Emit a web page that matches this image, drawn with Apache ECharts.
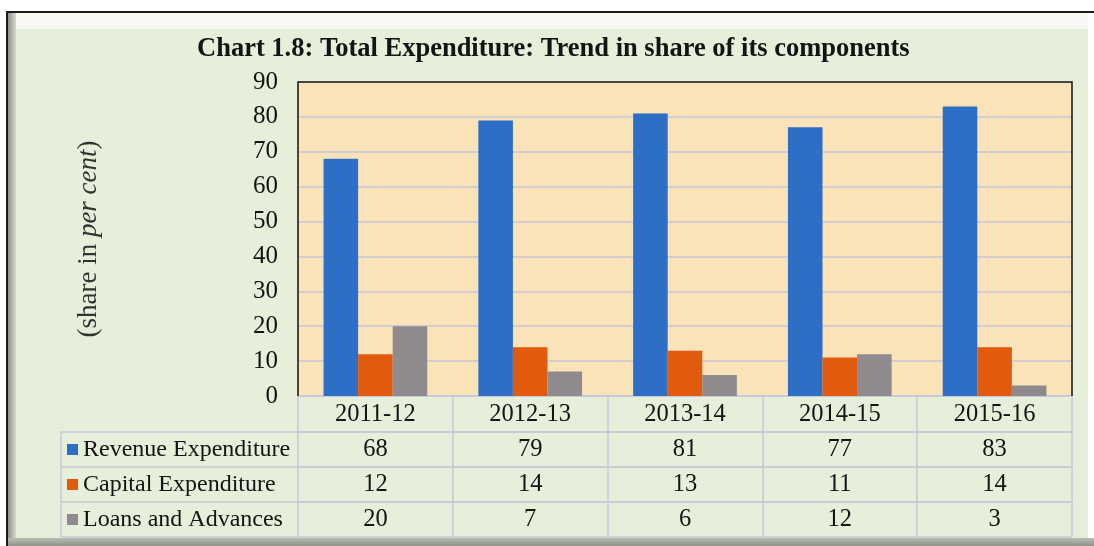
<!DOCTYPE html>
<html>
<head>
<meta charset="utf-8">
<script src="https://cdn.jsdelivr.net/npm/echarts@6/dist/echarts.min.js"></script>
<style>
html,body{margin:0;padding:0;background:#fff;}
#chart{width:1094px;height:546px;}
</style>
</head>
<body>
<div id="chart"></div>
<script>
// ---- data ----
const categories = ['2011-12', '2012-13', '2013-14', '2014-15', '2015-16'];
const seriesNames = ['Revenue Expenditure', 'Capital Expenditure', 'Loans and Advances'];
const revenueExpenditure = [68, 79, 81, 77, 83];
const capitalExpenditure = [12, 14, 13, 11, 14];
const loansAndAdvances = [20, 7, 6, 12, 3];
const yTicks = [0, 10, 20, 30, 40, 50, 60, 70, 80, 90];

// ---- layout ----
const W = 1094, H = 546;
const GL = 298, GR = 1072, GT = 82, GB = 396;
const ROW = 35, HEADER = 36;
const TABLE_LEFT = 61;
const FONT = '"Liberation Serif", "Times New Roman", serif';
const TXT = '#141414';
const TLINE = '#c9c8d8';
const colors = ['#2d6ec7', '#e15a0d', '#8e8a8d'];

const seriesData = [revenueExpenditure, capitalExpenditure, loansAndAdvances];

const chart = echarts.init(document.getElementById('chart'), null, {renderer: 'canvas'});

const rowAxes = seriesData.map((arr, i) => ({
  type: 'category',
  gridIndex: 0,
  position: 'bottom',
  offset: HEADER + i * ROW,
  data: arr.map(String),
  axisLine: {show: true, lineStyle: {color: TLINE, width: 1.5}},
  axisTick: {show: false},
  axisLabel: {fontFamily: FONT, fontSize: 24.5, color: TXT, margin: 5}
}));

const tableBottom = GB + HEADER + 3 * ROW;
const graphics = [
  // outer frame
  {type: 'rect', z: -10, shape: {x: 7, y: 12, width: 1090, height: 535},
   style: {fill: '#d9dccf', stroke: '#1a1a1a', lineWidth: 2}},
  {type: 'rect', z: -9, shape: {x: 8, y: 13, width: 1080, height: 16},
   style: {fill: '#f7f9f2'}},
  {type: 'rect', z: -9, shape: {x: 8, y: 13, width: 8, height: 528},
   style: {fill: {type: 'linear', x: 0, y: 0, x2: 1, y2: 0,
     colorStops: [{offset: 0, color: '#8d918a'}, {offset: 1, color: '#d6dccb'}]}}},
  {type: 'rect', z: -9, shape: {x: 16, y: 29, width: 1072, height: 509},
   style: {fill: '#e6efda'}},
  {type: 'rect', z: -9, shape: {x: 8, y: 538, width: 1086, height: 8},
   style: {fill: {type: 'linear', x: 0, y: 0, x2: 0, y2: 1,
     colorStops: [{offset: 0, color: '#b9bdb2'}, {offset: 1, color: '#8f938b'}]}}},
  {type: 'rect', z: -9, shape: {x: 1088, y: 13, width: 6, height: 525},
   style: {fill: '#ffffff'}},
  // black plot frame on left/top/right
  {type: 'polyline', z: 20, shape: {points: [[GL, GB], [GL, GT], [GR, GT], [GR, GB]]},
   style: {stroke: '#111', lineWidth: 1.5, fill: null}},
  // table lines for the label column
  {type: 'line', z: 5, shape: {x1: TABLE_LEFT, y1: GB + HEADER, x2: TABLE_LEFT, y2: tableBottom},
   style: {stroke: TLINE, lineWidth: 1.5}},
];
for (let i = 0; i <= 3; i++) {
  const y = GB + HEADER + i * ROW;
  graphics.push({type: 'line', z: 5, shape: {x1: TABLE_LEFT, y1: y, x2: GR, y2: y},
    style: {stroke: TLINE, lineWidth: 1.5}});
}

const option = {
  animation: false,
  backgroundColor: '#ffffff',
  color: colors,
  title: {
    text: 'Chart 1.8: Total Expenditure: Trend in share of its components',
    left: 197,
    top: 36,
    padding: 0,
    textStyle: {fontFamily: FONT, fontWeight: 'bold', fontSize: 26.5, color: TXT}
  },
  legend: {
    orient: 'vertical',
    left: 67,
    top: GB + HEADER,
    padding: 0,
    itemGap: 0,
    itemWidth: 11,
    itemHeight: 11,
    icon: 'rect',
    data: seriesNames,
    textStyle: {fontFamily: FONT, fontSize: 24, color: TXT, lineHeight: ROW, padding: [0, 0, 0, 0]}
  },
  grid: {
    left: GL, right: W - GR, top: GT, bottom: H - GB,
    show: true, backgroundColor: '#fbe3b9', borderWidth: 0
  },
  xAxis: [
    {
      type: 'category',
      gridIndex: 0,
      position: 'bottom',
      data: categories,
      axisLine: {show: true, lineStyle: {color: TLINE, width: 2}},
      axisTick: {show: true, alignWithLabel: false, inside: false, length: HEADER + 3 * ROW,
        lineStyle: {color: TLINE, width: 1.5}},
      axisLabel: {fontFamily: FONT, fontSize: 24.5, color: TXT, margin: 6}
    }
  ].concat(rowAxes),
  yAxis: {
    type: 'value',
    min: yTicks[0],
    max: yTicks[yTicks.length - 1],
    interval: 10,
    name: '(share in {i|per cent})',
    nameLocation: 'middle',
    nameRotate: 90,
    nameGap: 196,
    nameTextStyle: {fontFamily: FONT, fontSize: 27, color: '#333',
      rich: {i: {fontFamily: FONT, fontSize: 27, fontStyle: 'italic', color: '#333'}}},
    axisLine: {show: false},
    axisTick: {show: false},
    axisLabel: {fontFamily: FONT, fontSize: 25, color: TXT, margin: 20},
    splitLine: {show: true, showMaxLine: false, showMinLine: false, lineStyle: {color: '#c7c5da', width: 1.5}}
  },
  series: seriesData.map((arr, i) => ({
    type: 'bar',
    name: seriesNames[i],
    data: arr,
    xAxisIndex: 0,
    barGap: '0%',
    barCategoryGap: '33%',
    itemStyle: {color: colors[i]}
  })),
  graphic: graphics
};
chart.setOption(option);
</script>
</body>
</html>
